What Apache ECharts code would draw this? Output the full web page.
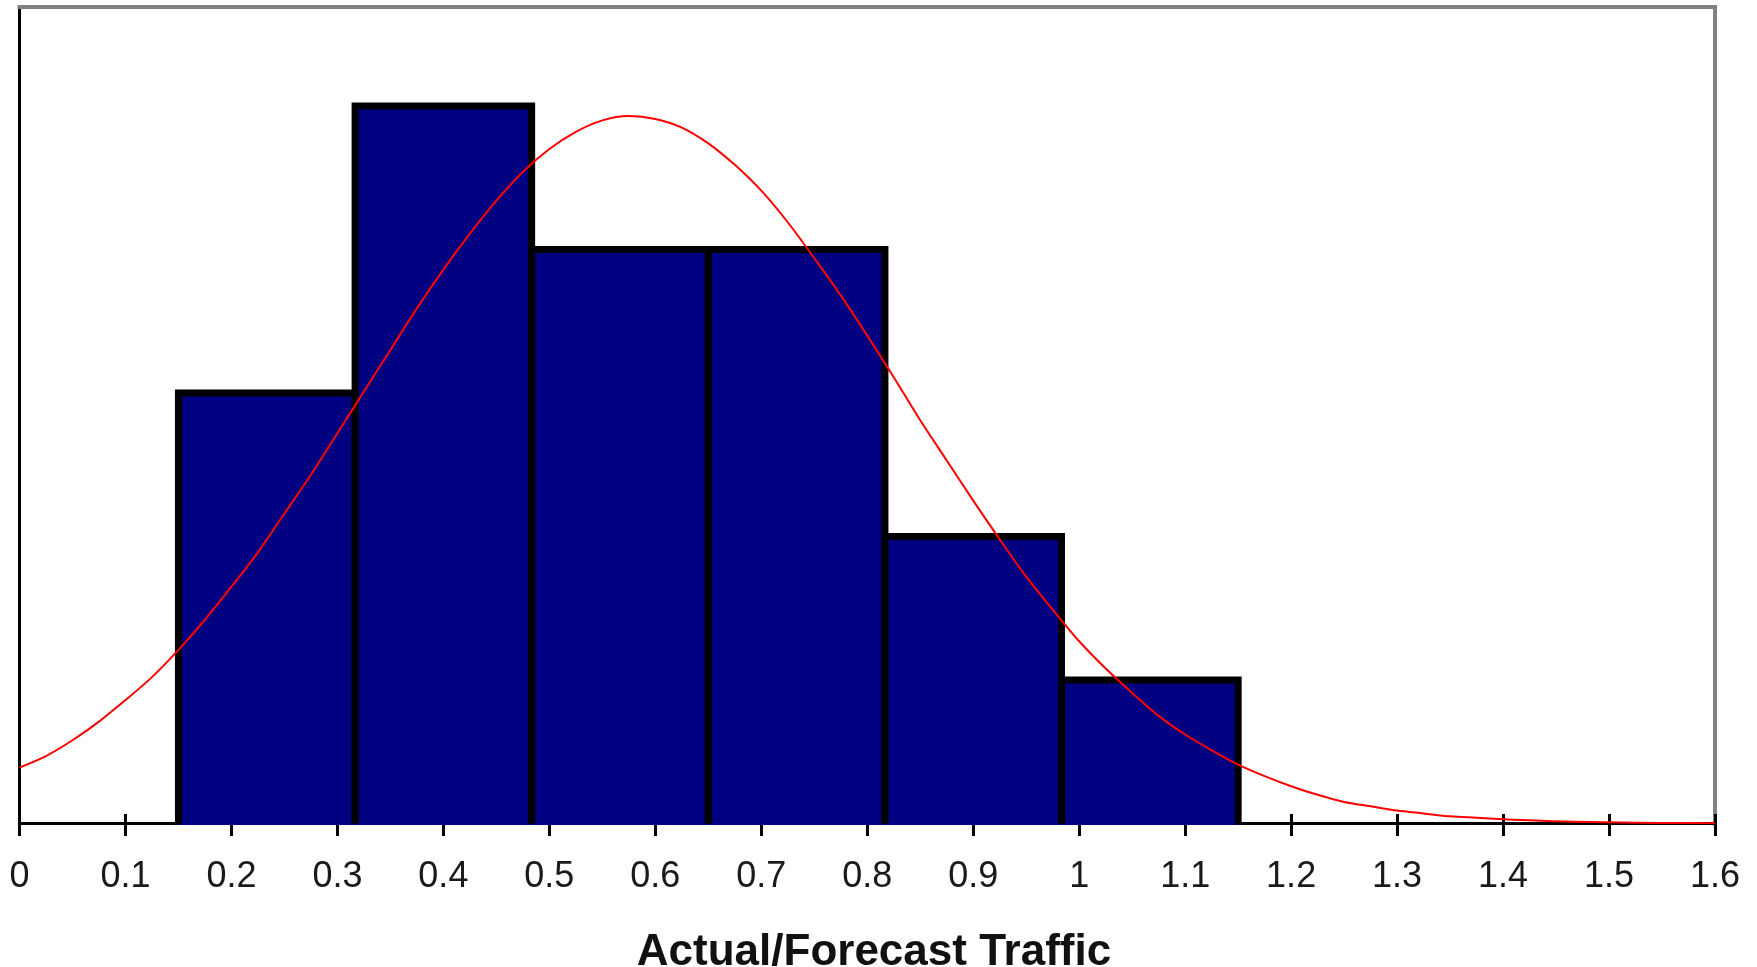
<!DOCTYPE html>
<html>
<head>
<meta charset="utf-8">
<script src="https://cdn.jsdelivr.net/npm/echarts@6/dist/echarts.min.js"></script>
<style>
html,body{margin:0;padding:0;background:#ffffff;}
#chart{width:1757px;height:967px;}
</style>
</head>
<body>
<div id="chart"></div>
<script>
// ---- data ----
const binStart = [0.15, 0.3167, 0.4833, 0.65, 0.8167, 0.9833];
const binEnd   = [0.3167, 0.4833, 0.65, 0.8167, 0.9833, 1.15];
const counts   = [3, 5, 4, 4, 2, 1];

const curveX = [0, 0.025, 0.05, 0.075, 0.1, 0.125, 0.15, 0.175, 0.2, 0.225, 0.25, 0.275, 0.3, 0.325,
                0.35, 0.375, 0.4, 0.425, 0.45, 0.475, 0.5, 0.525, 0.55, 0.575, 0.6, 0.625, 0.65, 0.675,
                0.7, 0.725, 0.75, 0.775, 0.8, 0.825, 0.85, 0.875, 0.9, 0.925, 0.95, 0.975, 1.0, 1.025,
                1.05, 1.075, 1.1, 1.125, 1.15, 1.175, 1.2, 1.225, 1.25, 1.275, 1.3, 1.325, 1.35, 1.375,
                1.4, 1.45, 1.5, 1.55, 1.6];
const curveY = [0.39, 0.47, 0.58, 0.71, 0.86, 1.02, 1.21, 1.42, 1.65, 1.89, 2.16, 2.43, 2.72, 3.01,
                3.30, 3.59, 3.86, 4.11, 4.34, 4.54, 4.70, 4.82, 4.90, 4.93, 4.91, 4.85, 4.74, 4.59,
                4.41, 4.19, 3.94, 3.68, 3.40, 3.11, 2.81, 2.53, 2.25, 1.98, 1.72, 1.49, 1.27, 1.08,
                0.91, 0.75, 0.62, 0.51, 0.41, 0.33, 0.26, 0.20, 0.15, 0.12, 0.09, 0.07, 0.05, 0.04,
                0.03, 0.015, 0.008, 0.004, 0.002];

const xMin = 0, xMax = 1.6, xStep = 0.1;
const yMin = 0, yMax = 5.69;
const xTitle = 'Actual/Forecast Traffic';

// ---- chart ----
const chart = echarts.init(document.getElementById('chart'), null, {renderer: 'canvas'});

const histData = binStart.map((s, i) => [s, binEnd[i], counts[i]]);
const lineData = curveX.map((x, i) => [x, curveY[i]]);

const option = {
  animation: false,
  backgroundColor: '#ffffff',
  grid: {left: 19.5, right: 42, top: 7, bottom: 143.5, containLabel: false, outerBoundsMode: 'none'},
  xAxis: [
    {
      type: 'value', position: 'bottom', min: xMin, max: xMax, interval: xStep,
      axisLine: {show: true, onZero: false, lineStyle: {color: '#000000', width: 3}},
      axisTick: {show: true, inside: false, length: 12.5, lineStyle: {color: '#000000', width: 3}},
      axisLabel: {show: true, margin: 36, color: '#1a1a1a', fontFamily: 'Liberation Sans, Arial, sans-serif', fontSize: 36,
                  showMinLabel: true, showMaxLabel: true},
      splitLine: {show: false}
    },
    {
      type: 'value', position: 'bottom', min: xMin, max: xMax, interval: xStep,
      axisLine: {show: false, onZero: false},
      axisTick: {show: true, inside: true, length: 9.5, lineStyle: {color: '#000000', width: 3}},
      axisLabel: {show: false},
      splitLine: {show: false}
    },
    {
      type: 'value', position: 'top', min: xMin, max: xMax,
      axisLine: {show: true, onZero: false, lineStyle: {color: '#808080', width: 4, cap: 'square'}},
      axisTick: {show: false}, axisLabel: {show: false}, splitLine: {show: false}
    }
  ],
  yAxis: [
    {
      type: 'value', position: 'left', min: yMin, max: yMax,
      axisLine: {show: true, onZero: false, lineStyle: {color: '#000000', width: 3, cap: 'square'}},
      axisTick: {show: false}, axisLabel: {show: false}, splitLine: {show: false}
    },
    {
      type: 'value', position: 'right', min: yMin, max: yMax,
      axisLine: {show: true, onZero: false, lineStyle: {color: '#808080', width: 4, cap: 'square'}},
      axisTick: {show: false}, axisLabel: {show: false}, splitLine: {show: false}
    }
  ],
  graphic: [
    {
      type: 'text', x: 874, y: 953, z: 10,
      style: {text: xTitle, font: 'bold 44px "Liberation Sans", Arial, sans-serif', fill: '#111111',
              textAlign: 'center', textVerticalAlign: 'middle', align: 'center', verticalAlign: 'middle'}
    }
  ],
  series: [
    {
      type: 'custom', name: 'Frequency', xAxisIndex: 0, yAxisIndex: 0, z: 2,
      encode: {x: [0, 1], y: 2},
      data: histData,
      renderItem: function (params, api) {
        const tl = api.coord([api.value(0), api.value(2)]);
        const br = api.coord([api.value(1), 0]);
        return {
          type: 'group',
          children: [
            {type: 'rect', shape: {x: tl[0], y: tl[1], width: br[0] - tl[0], height: br[1] - tl[1] + 1.5},
             style: {fill: '#000080'}},
            {type: 'polyline', shape: {points: [[tl[0], br[1]], [tl[0], tl[1]], [br[0], tl[1]], [br[0], br[1]]]},
             style: {fill: null, stroke: '#000000', lineWidth: 7, lineJoin: 'miter'}}
          ]
        };
      }
    },
    {
      type: 'line', name: 'Normal', xAxisIndex: 0, yAxisIndex: 0, z: 5,
      data: lineData, smooth: 0.3, showSymbol: false, symbol: 'none',
      lineStyle: {color: '#ff0000', width: 2}
    }
  ]
};
chart.setOption(option);
</script>
</body>
</html>
